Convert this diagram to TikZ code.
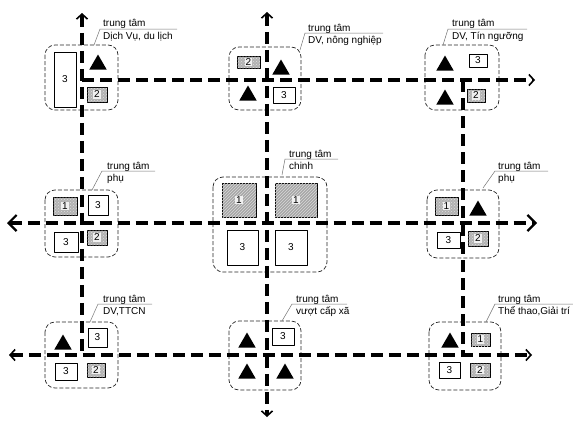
\documentclass[tikz,border=0pt]{standalone}
\usepackage{fontspec}
\setmainfont{Liberation Sans}
\usetikzlibrary{arrows.meta,shapes.geometric,patterns}
\newcommand\lotno[1]{{\setlength{\fboxsep}{0.8pt}\colorbox{gray!12}{#1}}}
\tikzset{
	road/.style={black, line width=3.2pt, dash pattern=on 12pt off 6pt},
	tipS/.tip={Straight Barb[length=5pt, width=11pt, line width=1.6pt]},
	tipL/.tip={Straight Barb[length=8pt, width=16pt, line width=2.2pt]},
	zone/.style={black!85, line width=0.7pt, dash pattern=on 4pt off 2pt, rounded corners=10pt},
	lotw/.style={draw, line width=0.9pt, fill=white, inner sep=0pt, font=\fontsize{10}{12}\selectfont},
	lotg/.style={lotw, fill=gray!60, postaction={pattern=crosshatch dots, pattern color=gray!25}},
	loth/.style={lotw, fill=gray!70, postaction={pattern=north east lines, pattern color=gray!30}},
	tri/.style={regular polygon, regular polygon sides=3, minimum size=20pt, inner sep=0pt, fill=black},
	leader/.style={black!55, line width=0.5pt},
	lbl/.style={anchor=base west, inner sep=0pt, font=\fontsize{10}{12}\selectfont}
}
\begin{document}
\begin{tikzpicture}[x=1pt, y=-1pt, line cap=butt, line join=round]
	\useasboundingbox (0,0) rectangle (573,423);
	
	% Zone outlines
	\draw[zone] (45,45) rectangle (118,110);
	\draw[zone] (229,47) rectangle (301,110);
	\draw[zone] (425,45) rectangle (499,110);
	\draw[zone] (45,190) rectangle (118,257);
	\draw[zone] (213,177) rectangle (327,272);
	\draw[zone] (427,190) rectangle (499,258);
	\draw[zone] (45,322) rectangle (118,388);
	\draw[zone] (229,321) rectangle (301,390);
	\draw[zone] (429,322) rectangle (501,390);
	
	% Roads (vertical)
	\draw[road, arrows={tipS-}] (82,13) -- (82,355);
	\draw[road, arrows={tipS-tipS}] (267,12) -- (267,417);
	\draw[road] (463,80) -- (463,355);
	
	% Roads (horizontal)
	\draw[road, arrows={-tipS}] (82,80) -- (535,80);
	\draw[road, arrows={tipL-tipL}] (7,223) -- (537,223);
	\draw[road, arrows={tipS-tipS}] (9,355) -- (532,355);
	
	% Top left
	\node[lotw, minimum width=22pt, minimum height=55pt] (tl3) at (65,79.5) {3};
	\node[tri] (tlT) at (98,64.5) {};
	\node[lotg, minimum width=20pt, minimum height=15pt] (tl2) at (97,94.5) {\lotno{2}};
	
	% Top centre
	\node[lotg, minimum width=23pt, minimum height=12pt] (tc2) at (248.5,62) {\lotno{2}};
	\node[tri] (tcT1) at (281,69.5) {};
	\node[tri] (tcT2) at (248,95.5) {};
	\node[lotw, minimum width=22pt, minimum height=16pt] (tc3) at (284,95) {3};
	
	% Top right
	\node[tri] (trT1) at (445,65.5) {};
	\node[lotw, minimum width=18pt, minimum height=13pt] (tr3) at (478,60.5) {3};
	\node[tri] (trT2) at (445,99.5) {};
	\node[lotg, minimum width=18pt, minimum height=13pt] (tr2) at (476,95.5) {\lotno{2}};
	
	% Middle left
	\node[lotg, minimum width=24pt, minimum height=18pt] (ml1) at (65,206) {\lotno{1}};
	\node[lotw, minimum width=20pt, minimum height=20pt] (ml3a) at (98,205) {3};
	\node[lotw, minimum width=24pt, minimum height=20pt] (ml3b) at (66,242) {3};
	\node[lotg, minimum width=20pt, minimum height=15pt] (ml2) at (97,237.5) {\lotno{2}};
	
	% Middle centre
	\node[loth, minimum width=34pt, minimum height=34pt] (mc1a) at (239,200) {\lotno{1}};
	\node[loth, minimum width=42pt, minimum height=34pt] (mc1b) at (296,200) {\lotno{1}};
	\node[lotw, minimum width=31pt, minimum height=35pt] (mc3a) at (242.5,247.5) {3};
	\node[lotw, minimum width=32pt, minimum height=35pt] (mc3b) at (291,247.5) {3};
	
	% Middle right
	\node[lotg, minimum width=23pt, minimum height=18pt] (mr1) at (446.5,206) {\lotno{1}};
	\node[tri] (mrT) at (478,210.5) {};
	\node[lotw, minimum width=23pt, minimum height=16pt] (mr3) at (448.5,240) {3};
	\node[lotg, minimum width=20pt, minimum height=15pt] (mr2) at (478,238.5) {\lotno{2}};
	
	% Bottom left
	\node[tri] (blT) at (63,344.5) {};
	\node[lotw, minimum width=19pt, minimum height=19pt] (bl3a) at (97.5,337.5) {3};
	\node[lotw, minimum width=22pt, minimum height=17pt] (bl3b) at (66,371.5) {3};
	\node[lotg, minimum width=18pt, minimum height=14pt] (bl2) at (96,370) {\lotno{2}};
	
	% Bottom centre
	\node[tri] (bcT1) at (247,342.5) {};
	\node[lotw, minimum width=22pt, minimum height=17pt] (bc3) at (283,336.5) {3};
	\node[tri] (bcT2) at (247,373.5) {};
	\node[tri] (bcT3) at (285,373.5) {};
	
	% Bottom right
	\node[tri] (brT) at (450,342.5) {};
	\node[lotg, minimum width=19pt, minimum height=13pt] (br1) at (480.5,339.5) {\lotno{1}};
	\node[lotw, minimum width=21pt, minimum height=16pt] (br3) at (449.5,370) {3};
	\node[lotg, minimum width=20pt, minimum height=14pt] (br2) at (480,370) {\lotno{2}};
	
	% Labels with leaders
	\draw[leader] (94,45) -- (100,29) -- (177,29);
	\node[lbl] (tlLa) at (103,27) {trung tâm};
	\node[lbl] (tlLb) at (103,39) {Dịch Vụ, du lịch};
	
	\draw[leader] (300,50) -- (305,33) -- (383,33);
	\node[lbl] (tcLa) at (308,31) {trung tâm};
	\node[lbl] (tcLb) at (308,43) {DV, nông nghiệp};
	
	\draw[leader] (443,45) -- (448,29) -- (527,29);
	\node[lbl] (trLa) at (452,27) {trung tâm};
	\node[lbl] (trLb) at (452,39) {DV, Tín ngưỡng};
	
	\draw[leader] (92,190) -- (102,171) -- (155,171);
	\node[lbl] (mlLa) at (107,169) {trung tâm};
	\node[lbl] (mlLb) at (107,181) {phụ};
	
	\draw[leader] (282,175) -- (285,159) -- (338,159);
	\node[lbl] (mcLa) at (289,157) {trung tâm};
	\node[lbl] (mcLb) at (289,169) {chinh};
	
	\draw[leader] (483,188) -- (495,171) -- (548,171);
	\node[lbl] (mrLa) at (498,169) {trung tâm};
	\node[lbl] (mrLb) at (498,181) {phụ};
	
	\draw[leader] (90,322) -- (98,304) -- (152,304);
	\node[lbl] (blLa) at (103,302) {trung tâm};
	\node[lbl] (blLb) at (103,314) {DV,TTCN};
	
	\draw[leader] (282,321) -- (292,304) -- (347,304);
	\node[lbl] (bcLa) at (296,302) {trung tâm};
	\node[lbl] (bcLb) at (296,314) {vượt cấp xã};
	
	\draw[leader] (486,322) -- (495,304) -- (573,304);
	\node[lbl] (brLa) at (498,302) {trung tâm};
	\node[lbl] (brLb) at (498,314) {Thể thao,Giải trí};
\end{tikzpicture}
\end{document}
